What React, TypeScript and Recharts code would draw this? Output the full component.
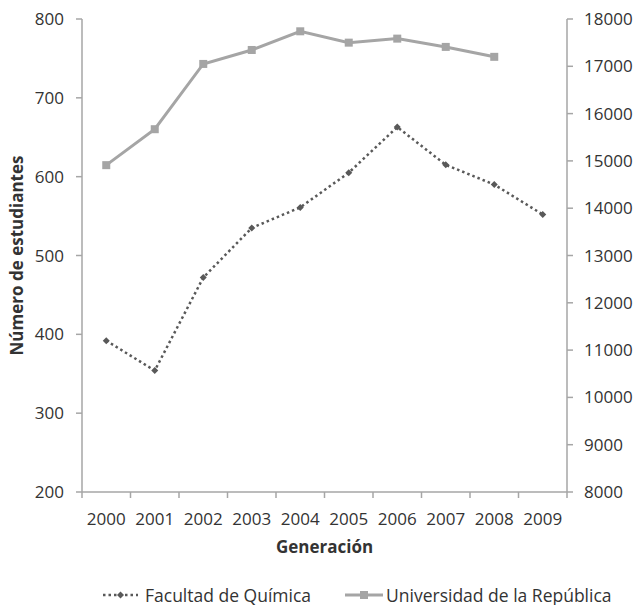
import { LineChart, Line, XAxis, YAxis, Legend } from 'recharts'

const years = ['2000', '2001', '2002', '2003', '2004', '2005', '2006', '2007', '2008', '2009']
const quimica = [392, 354, 472, 535, 561, 605, 663, 615, 590, 552]
const udelar: (number | null)[] = [14910, 15670, 17050, 17345, 17740, 17500, 17585, 17410, 17200, null]
const leftTicks = [200, 300, 400, 500, 600, 700, 800]
const rightTicks = [8000, 9000, 10000, 11000, 12000, 13000, 14000, 15000, 16000, 17000, 18000]

const data = years.map((year, i) => ({ year, quimica: quimica[i], udelar: udelar[i] }))

const FONT = '"Open Sans", sans-serif'
const AXIS = '#a6a6a6'
const TEXT = '#333333'
const DARK = '#595959'
const LIGHT = '#a5a5a5'

const SquareDot = (props: any) => {
    const { cx, cy } = props
    if (cx == null || cy == null || props.value == null) return null
    return <rect x={cx - 4} y={cy - 4} width={8} height={8} fill={LIGHT} />
}

const DiamondDot = (props: any) => {
    const { cx, cy } = props
    if (cx == null || cy == null) return null
    return <path d={`M${cx},${cy - 3.5}L${cx + 3.5},${cy}L${cx},${cy + 3.5}L${cx - 3.5},${cy}Z`} fill={DARK} />
}

const YearTick = (props: any) => {
    const { x, y, payload, index, visibleTicksCount } = props
    const half = payload.offset ?? 24
    return (
        <g>
            <line x1={x - half} y1={y - 8} x2={x - half} y2={y - 2} stroke={AXIS} strokeWidth={1.5} />
            {index === visibleTicksCount - 1 && (
                <line x1={x + half} y1={y - 8} x2={x + half} y2={y - 2} stroke={AXIS} strokeWidth={1.5} />
            )}
            <text x={x} y={y + 20} textAnchor="middle" dominantBaseline="middle" fill={TEXT} fontSize={17} fontFamily={FONT}>
                {payload.value}
            </text>
        </g>
    )
}

const renderLegend = () => (
    <div
        style={{
            height: 43,
            paddingTop: 22,
            paddingLeft: 103,
            boxSizing: 'border-box',
            display: 'flex',
            justifyContent: 'flex-start',
            fontFamily: FONT,
            fontSize: 17.5,
            color: TEXT,
        }}
    >
        <div style={{ display: 'flex', alignItems: 'center', gap: 7, width: 242 }}>
            <svg width={35} height={12}>
                <line x1={0} y1={6} x2={35} y2={6} stroke={DARK} strokeWidth={2.5} strokeDasharray="2.5 3" />
                <path d="M17.5,2.5L21,6L17.5,9.5L14,6Z" fill={DARK} />
            </svg>
            <span>Facultad de Química</span>
        </div>
        <div style={{ display: 'flex', alignItems: 'center', gap: 3 }}>
            <svg width={38} height={12}>
                <line x1={0} y1={6} x2={38} y2={6} stroke={LIGHT} strokeWidth={3} />
                <rect x={15} y={2} width={8} height={8} fill={LIGHT} />
            </svg>
            <span>Universidad de la República</span>
        </div>
    </div>
)

export default function App() {
    return (
        <div style={{ position: 'absolute', left: 0, top: 0, background: '#fff' }}>
            <LineChart width={638} height={605} data={data} margin={{ top: 19, right: 0, bottom: 0, left: 0 }}>
                <XAxis
                    dataKey="year"
                    scale="band"
                    height={70}
                    axisLine={{ stroke: AXIS, strokeWidth: 1.5 }}
                    tickLine={false}
                    tick={<YearTick />}
                    interval={0}
                    label={(p: any) => (
                        <text
                            x={p.viewBox.x + p.viewBox.width / 2}
                            y={p.viewBox.y + 56}
                            textAnchor="middle"
                            dominantBaseline="middle"
                            fontWeight="bold"
                            fontSize={17}
                            fontFamily={FONT}
                            fill={TEXT}
                        >
                            Generación
                        </text>
                    )}
                />
                <YAxis
                    yAxisId="left"
                    width={82}
                    domain={[200, 800]}
                    ticks={leftTicks}
                    interval={0}
                    axisLine={{ stroke: AXIS, strokeWidth: 1.5 }}
                    tickLine={{ stroke: AXIS, strokeWidth: 1.5 }}
                    tickSize={6}
                    tickMargin={12}
                    tick={{ fill: TEXT, fontSize: 17, fontFamily: FONT }}
                    label={(p: any) => (
                        <text
                            x={18}
                            y={p.viewBox.y + p.viewBox.height / 2}
                            transform={`rotate(-90 18 ${p.viewBox.y + p.viewBox.height / 2})`}
                            textAnchor="middle"
                            dominantBaseline="middle"
                            fontWeight="bold"
                            fontSize={17}
                            fontFamily={FONT}
                            fill={TEXT}
                        >
                            Número de estudiantes
                        </text>
                    )}
                />
                <YAxis
                    yAxisId="right"
                    orientation="right"
                    width={71}
                    domain={[8000, 18000]}
                    ticks={rightTicks}
                    interval={0}
                    axisLine={{ stroke: AXIS, strokeWidth: 1.5 }}
                    tickLine={{ stroke: AXIS, strokeWidth: 1.5 }}
                    tickSize={6}
                    tickMargin={11}
                    tick={{ fill: TEXT, fontSize: 17, fontFamily: FONT }}
                />
                <Legend verticalAlign="bottom" content={renderLegend} />
                <Line
                    yAxisId="left"
                    dataKey="quimica"
                    stroke={DARK}
                    strokeWidth={2.5}
                    strokeDasharray="2.5 3"
                    dot={<DiamondDot />}
                    activeDot={false}
                    isAnimationActive={false}
                    name="Facultad de Química"
                />
                <Line
                    yAxisId="right"
                    dataKey="udelar"
                    stroke={LIGHT}
                    strokeWidth={3}
                    dot={<SquareDot />}
                    activeDot={false}
                    isAnimationActive={false}
                    name="Universidad de la República"
                />
            </LineChart>
        </div>
    )
}
